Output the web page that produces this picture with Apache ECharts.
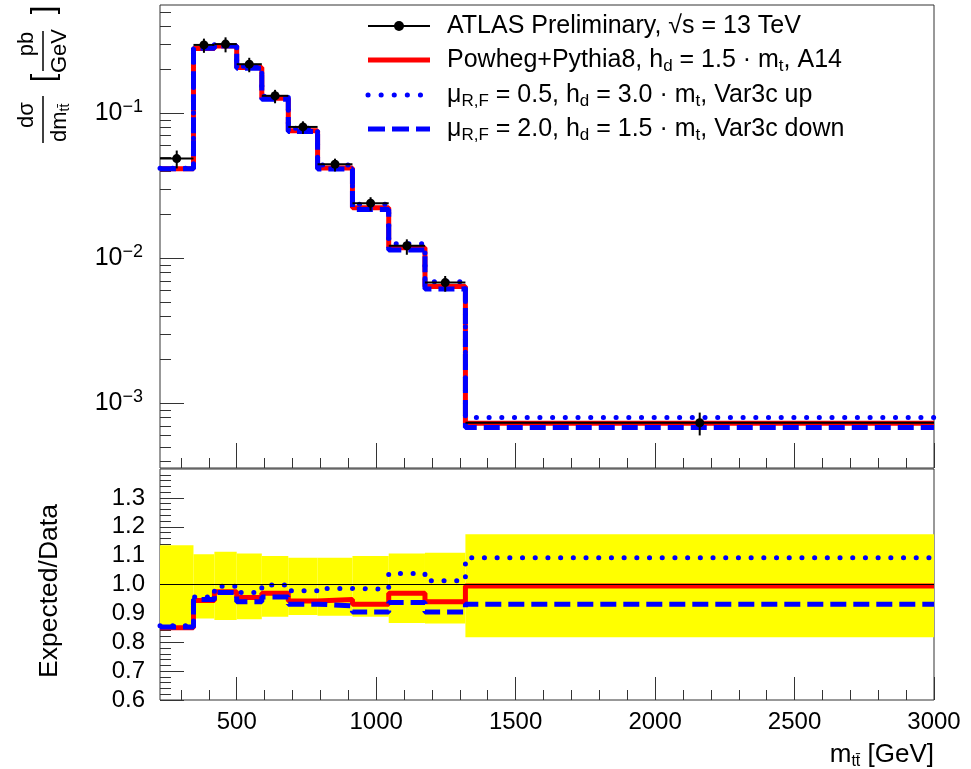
<!DOCTYPE html>
<html><head><meta charset="utf-8">
<script src="https://cdn.jsdelivr.net/npm/echarts@6/dist/echarts.min.js"></script>
<style>html,body{margin:0;padding:0;background:#fff}#c{width:971px;height:769px}</style>
</head><body><div id="c"></div>
<script>
// ---------------- data ----------------
const binEdges = [225, 345, 420, 500, 590, 685, 790, 915, 1045, 1175, 1320, 3000];
const dataValues    = [0.0487, 0.296, 0.300, 0.218, 0.132, 0.0805, 0.0445, 0.0240, 0.0122, 0.00680, 0.000735];
const nominalValues = [0.0414, 0.280, 0.291, 0.207, 0.127, 0.0758, 0.0420, 0.0223, 0.01180, 0.00638, 0.000728];
const varUpValues   = [0.0417, 0.283, 0.297, 0.211, 0.131, 0.0787, 0.0440, 0.0236, 0.01260, 0.00689, 0.000798];
const varDownValues = [0.0415, 0.281, 0.291, 0.204, 0.125, 0.0750, 0.0413, 0.0217, 0.01140, 0.00615, 0.000680];
const nominalRatio  = [0.850, 0.945, 0.975, 0.955, 0.970, 0.943, 0.948, 0.932, 0.970, 0.940, 0.995];
const varUpRatio    = [0.857, 0.957, 0.994, 0.972, 0.998, 0.978, 0.986, 0.984, 1.038, 1.013, 1.093];
const varDownRatio  = [0.853, 0.948, 0.972, 0.940, 0.957, 0.932, 0.926, 0.905, 0.938, 0.905, 0.932];
const bandHigh = [1.136, 1.105, 1.113, 1.107, 1.099, 1.093, 1.093, 1.099, 1.107, 1.110, 1.174];
const bandLow  = [0.855, 0.882, 0.877, 0.880, 0.888, 0.894, 0.892, 0.888, 0.867, 0.865, 0.817];
const refValue = 1.0;

const xRange = [225, 3000];
const yUpperRange = [3.58e-4, 0.558];
const yRatioRange = [0.6, 1.4];
const xMajorTicks = [500, 1000, 1500, 2000, 2500, 3000];
const xTickLabels = ['500', '1000', '1500', '2000', '2500', '3000'];
const yUpperExponents = [-3, -2, -1];
const yUpperTickLabels = ['\u22123', '\u22122', '\u22121'];
const yRatioTicks = [0.6, 0.7, 0.8, 0.9, 1.0, 1.1, 1.2, 1.3];
const yRatioTickLabels = ['0.6', '0.7', '0.8', '0.9', '1.0', '1.1', '1.2', '1.3'];

const legendLabels = [
  '{n|ATLAS Preliminary, \u221As = 13 TeV}',
  '{n|Powheg+Pythia8, h}{s|d}{n| = 1.5 \u00B7 m}{s|t}{n|, A14}',
  '{n|\u03BC}{s|R,F}{n| = 0.5, h}{s|d}{n| = 3.0 \u00B7 m}{s|t}{n|, Var3c up}',
  '{n|\u03BC}{s|R,F}{n| = 2.0, h}{s|d}{n| = 1.5 \u00B7 m}{s|t}{n|, Var3c down}'
];

// ---------------- helpers ----------------
const FONT = '"Liberation Sans", Arial, Helvetica, sans-serif';
const RED = '#ff0000', BLUE = '#0000ff', YELLOW = '#ffff00';
const DOT = [0.1, 12.6], DASH = [16, 7];

// minor tick positions (axis decoration only)
const xMinorTicks = [];
for (let v = 300; v <= 2900; v += 100) if (v % 500 !== 0) xMinorTicks.push(v);
const yUpperMinor = [];
for (let n = -4; n <= -1; n++) for (let k = 2; k <= 9; k++) {
  const v = k * Math.pow(10, n);
  if (v >= yUpperRange[0] && v <= yUpperRange[1]) yUpperMinor.push(Math.log10(v));
}
const yRatioMinor = [];
for (let i = 31; i <= 69; i++) if (i % 5 !== 0) yRatioMinor.push(i * 0.02);

const stepData = vals => binEdges.map((e, i) => [e, vals[Math.min(i, vals.length - 1)]]);

const tickStyle = { color: '#333', width: 1 };
function xAxisPair(grid, withLabels, majorLen) {
  return [{
    type: 'value', gridIndex: grid, min: xRange[0], max: xRange[1], position: 'bottom',
    axisLine: { show: false }, splitLine: { show: false },
    axisTick: { show: true, inside: true, length: majorLen, customValues: xMajorTicks, lineStyle: tickStyle },
    axisLabel: withLabels ? {
      show: true, customValues: xMajorTicks, margin: 10, fontSize: 24, color: '#000', fontFamily: FONT,
      formatter: v => xTickLabels[xMajorTicks.indexOf(v)]
    } : { show: false },
    name: withLabels ? '{n|m}{s|tt\u0304}{n| [GeV]}' : '',
    nameLocation: 'end', nameGap: 0, nameMoveOverlap: false,
    nameTextStyle: {
      align: 'right', verticalAlign: 'top', padding: [40, 0, 0, 0], color: '#000', fontFamily: FONT,
      rich: {
        n: { fontSize: 26, lineHeight: 30, fontFamily: FONT, color: '#000' },
        s: { fontSize: 16, lineHeight: 16, verticalAlign: 'bottom', fontFamily: FONT, color: '#000' }
      }
    }
  }, {
    type: 'value', gridIndex: grid, min: xRange[0], max: xRange[1], position: 'bottom',
    axisLine: { show: false }, splitLine: { show: false }, axisLabel: { show: false },
    axisTick: { show: true, inside: true, length: 10, customValues: xMinorTicks, lineStyle: tickStyle }
  }];
}

function renderData(params, api) {
  const pL = api.coord([api.value(0), api.value(2)]);
  const pR = api.coord([api.value(1), api.value(2)]);
  const eLo = api.coord([api.value(0), api.value(3)]);
  const eHi = api.coord([api.value(0), api.value(4)]);
  const cx = (pL[0] + pR[0]) / 2;
  return {
    type: 'group', children: [
      { type: 'line', shape: { x1: pL[0], y1: pL[1], x2: pR[0], y2: pR[1] }, style: { stroke: '#000', lineWidth: 2 } },
      { type: 'line', shape: { x1: cx, y1: eLo[1], x2: cx, y2: eHi[1] }, style: { stroke: '#000', lineWidth: 2 } },
      { type: 'circle', shape: { cx: cx, cy: pL[1], r: 4.5 }, style: { fill: '#000' } }
    ]
  };
}
function renderBand(params, api) {
  const pTop = api.coord([api.value(0), api.value(3)]);
  const pBot = api.coord([api.value(1), api.value(2)]);
  return { type: 'rect', shape: { x: pTop[0], y: pTop[1], width: pBot[0] - pTop[0], height: pBot[1] - pTop[1] }, style: { fill: YELLOW } };
}

// ---------------- graphic: legend and upper y title ----------------
const legendRowsY = [26, 60, 95, 129];
const legendX0 = 368, legendX1 = 430, legendTextX = 447;
const richLegend = {
  n: { fontSize: 25, lineHeight: 30, fontFamily: FONT, fill: '#000' },
  s: { fontSize: 17, lineHeight: 17, verticalAlign: 'bottom', fontFamily: FONT, fill: '#000' }
};
const legendGraphics = [];
const legendLineStyles = [
  { stroke: '#000', lineWidth: 2 },
  { stroke: RED, lineWidth: 5 },
  { stroke: BLUE, lineWidth: 5, lineDash: [0.1, 13], lineCap: 'round' },
  { stroke: BLUE, lineWidth: 5, lineDash: [17, 7] }
];
legendRowsY.forEach((y, i) => {
  legendGraphics.push({ type: 'line', z: 100, shape: { x1: legendX0, y1: y, x2: legendX1, y2: y }, style: legendLineStyles[i] });
  if (i === 0) legendGraphics.push({ type: 'circle', z: 101, shape: { cx: (legendX0 + legendX1) / 2, cy: y, r: 5 }, style: { fill: '#000' } });
  legendGraphics.push({
    type: 'text', z: 100,
    style: { x: legendTextX, y: y, text: legendLabels[i], rich: richLegend, align: 'left', verticalAlign: 'middle', fontFamily: FONT, fontSize: 25, fill: '#000' }
  });
});

const richTitle = {
  n: { fontSize: 22, lineHeight: 24, fontFamily: FONT, fill: '#000' },
  s: { fontSize: 14, lineHeight: 14, verticalAlign: 'bottom', fontFamily: FONT, fill: '#000' }
};
const yTitle = {
  type: 'group', x: 43, y: 143, rotation: Math.PI / 2, z: 100,
  children: [
    { type: 'line', shape: { x1: 0, y1: 0, x2: 47, y2: 0 }, style: { stroke: '#000', lineWidth: 1.5 } },
    { type: 'text', style: { x: 28, y: -16, text: 'd\u03C3', fontSize: 22, fontFamily: FONT, fill: '#000', align: 'center', verticalAlign: 'middle' } },
    { type: 'text', style: { x: 1, y: 17, text: '{n|dm}{s|tt\u0304}', rich: richTitle, fontFamily: FONT, fill: '#000', align: 'left', verticalAlign: 'middle' } },
    { type: 'text', style: { x: 65, y: 1, text: '[', fontSize: 31, fontFamily: FONT, fill: '#000', align: 'center', verticalAlign: 'middle' } },
    { type: 'line', shape: { x1: 72, y1: 0, x2: 112, y2: 0 }, style: { stroke: '#000', lineWidth: 1.5 } },
    { type: 'text', style: { x: 99, y: -16, text: 'pb', fontSize: 22, fontFamily: FONT, fill: '#000', align: 'center', verticalAlign: 'middle' } },
    { type: 'text', style: { x: 92, y: 17, text: 'GeV', fontSize: 22, fontFamily: FONT, fill: '#000', align: 'center', verticalAlign: 'middle' } },
    { type: 'text', style: { x: 133, y: 1, text: ']', fontSize: 31, fontFamily: FONT, fill: '#000', align: 'center', verticalAlign: 'middle' } }
  ]
};

// ---------------- option ----------------
const chart = echarts.init(document.getElementById('c'), null, { renderer: 'canvas' });
const option = {
  animation: false,
  backgroundColor: '#fff',
  textStyle: { fontFamily: FONT },
  grid: [
    { left: 160, right: 37, top: 5, height: 463, show: true, borderColor: '#333', borderWidth: 1, backgroundColor: 'transparent', containLabel: false, outerBoundsMode: 'none' },
    { left: 160, right: 37, top: 469, height: 231, show: true, borderColor: '#333', borderWidth: 1, backgroundColor: 'transparent', containLabel: false, outerBoundsMode: 'none' }
  ],
  xAxis: [].concat(xAxisPair(0, false, 25), xAxisPair(1, true, 23)),
  yAxis: [
    { type: 'log', logBase: 10, gridIndex: 0, min: yUpperRange[0], max: yUpperRange[1], position: 'left',
      axisLine: { show: false }, axisTick: { show: false }, axisLabel: { show: false }, splitLine: { show: false } },
    { type: 'value', gridIndex: 0, min: Math.log10(yUpperRange[0]), max: Math.log10(yUpperRange[1]), position: 'left',
      axisLine: { show: false }, splitLine: { show: false },
      axisTick: { show: true, inside: true, length: 24, customValues: yUpperExponents, lineStyle: tickStyle },
      axisLabel: { show: true, customValues: yUpperExponents, margin: 17, color: '#000', fontFamily: FONT,
        formatter: v => '{b|10}{e|' + yUpperTickLabels[yUpperExponents.indexOf(Math.round(v))] + '}',
        rich: {
          b: { fontSize: 25, lineHeight: 30, fontFamily: FONT, color: '#000' },
          e: { fontSize: 18, lineHeight: 18, verticalAlign: 'top', fontFamily: FONT, color: '#000' }
        } } },
    { type: 'value', gridIndex: 0, min: Math.log10(yUpperRange[0]), max: Math.log10(yUpperRange[1]), position: 'left',
      axisLine: { show: false }, splitLine: { show: false }, axisLabel: { show: false },
      axisTick: { show: true, inside: true, length: 11, customValues: yUpperMinor, lineStyle: tickStyle } },
    { type: 'value', gridIndex: 1, min: yRatioRange[0], max: yRatioRange[1], position: 'left',
      axisLine: { show: false }, splitLine: { show: false },
      axisTick: { show: true, inside: true, length: 24, customValues: yRatioTicks, lineStyle: tickStyle },
      axisLabel: { show: true, customValues: yRatioTicks, margin: 15, fontSize: 24, color: '#000', fontFamily: FONT,
        formatter: v => yRatioTickLabels[yRatioTicks.findIndex(t => Math.abs(t - v) < 1e-6)] },
      name: 'Expected/Data', nameLocation: 'middle', nameRotate: 90, nameGap: 97, nameMoveOverlap: false,
      nameTextStyle: { fontSize: 26.5, color: '#000', fontFamily: FONT, padding: [0, 13, 0, 0] } },
    { type: 'value', gridIndex: 1, min: yRatioRange[0], max: yRatioRange[1], position: 'left',
      axisLine: { show: false }, splitLine: { show: false }, axisLabel: { show: false },
      axisTick: { show: true, inside: true, length: 11, customValues: yRatioMinor, lineStyle: tickStyle } }
  ],
  graphic: { elements: legendGraphics.concat([yTitle]) },
  series: [
    { name: 'Data uncertainty', type: 'custom', xAxisIndex: 2, yAxisIndex: 3, z: 1, clip: true,
      renderItem: renderBand, encode: { x: [0, 1], y: [2, 3] },
      data: bandLow.map((lo, i) => [binEdges[i], binEdges[i + 1], lo, bandHigh[i]]),
      markLine: { silent: true, symbol: 'none', label: { show: false }, lineStyle: { color: '#000', width: 1, type: 'solid' }, data: [{ yAxis: refValue }] } },
    { name: 'Powheg+Pythia8', type: 'line', step: 'end', xAxisIndex: 0, yAxisIndex: 0, z: 2, symbol: 'none',
      lineStyle: { color: RED, width: 5 }, data: stepData(nominalValues) },
    { name: 'Var3c up', type: 'line', step: 'end', xAxisIndex: 0, yAxisIndex: 0, z: 3, symbol: 'none',
      lineStyle: { color: BLUE, width: 5, type: DOT, cap: 'round' }, data: stepData(varUpValues) },
    { name: 'Var3c down', type: 'line', step: 'end', xAxisIndex: 0, yAxisIndex: 0, z: 4, symbol: 'none',
      lineStyle: { color: BLUE, width: 5, type: DASH }, data: stepData(varDownValues) },
    { name: 'ATLAS Preliminary', type: 'custom', xAxisIndex: 0, yAxisIndex: 0, z: 5, clip: true,
      renderItem: renderData, encode: { x: [0, 1], y: [2, 3, 4] },
      data: dataValues.map((v, i) => [binEdges[i], binEdges[i + 1], v, v * bandLow[i], v * bandHigh[i]]) },
    { name: 'Powheg+Pythia8 ratio', type: 'line', step: 'end', xAxisIndex: 2, yAxisIndex: 3, z: 2, symbol: 'none',
      lineStyle: { color: RED, width: 5 }, data: stepData(nominalRatio) },
    { name: 'Var3c up ratio', type: 'line', step: 'end', xAxisIndex: 2, yAxisIndex: 3, z: 3, symbol: 'none',
      lineStyle: { color: BLUE, width: 5, type: DOT, cap: 'round' }, data: stepData(varUpRatio) },
    { name: 'Var3c down ratio', type: 'line', step: 'end', xAxisIndex: 2, yAxisIndex: 3, z: 4, symbol: 'none',
      lineStyle: { color: BLUE, width: 5, type: DASH }, data: stepData(varDownRatio) }
  ]
};
chart.setOption(option);
</script>
</body></html>
